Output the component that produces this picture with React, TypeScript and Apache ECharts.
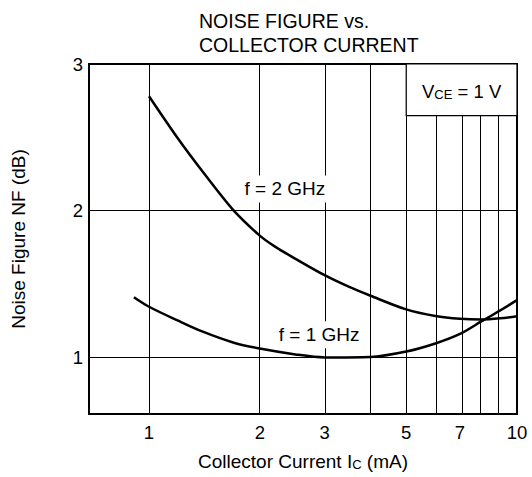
import React, { useEffect, useRef } from "react";
import * as echarts from "echarts";

// ---- data ----
const CURRENT_2GHZ = [1, 1.2, 1.4, 1.7, 2, 2.2, 2.5, 3, 3.5, 4, 5, 6, 7, 8, 9, 10];
const NF_2GHZ = [2.78, 2.49, 2.265, 2.0, 1.83, 1.755, 1.672, 1.56, 1.48, 1.42, 1.327, 1.282, 1.263, 1.258, 1.266, 1.28];

const CURRENT_1GHZ = [0.91, 1, 1.2, 1.4, 1.7, 2, 2.5, 3, 4, 5, 6, 7, 8, 9, 10];
const NF_1GHZ = [1.41, 1.345, 1.25, 1.175, 1.1, 1.06, 1.02, 1.0, 1.003, 1.04, 1.095, 1.16, 1.245, 1.32, 1.39];

const X_TICK_LABELS = [1, 2, 3, 5, 7, 10];
const X_GRID_VALUES = [1, 2, 3, 4, 5, 6, 7, 8, 9];
const Y_TICK_LABELS = [1, 2, 3];
const Y_GRID_VALUES = [1, 2];

const X_MIN = 0.687; // mA
const X_MAX = 10;
const Y_MIN = 0.614;
const Y_MAX = 3;

const CURVE_NAMES = ["f = 2 GHz", "f = 1 GHz"];
const LABEL_CURRENT = [2.34, 2.9];
const LABEL_NF = [2.148, 1.155];

const BOX_CURRENT = [5, 10];
const BOX_NF = [2.648, 3];

const FONT = '"Liberation Sans", Arial, Helvetica, sans-serif';

export default function App() {
  const ref = useRef<HTMLDivElement>(null);

  useEffect(() => {
    if (!ref.current) return;
    const chart = echarts.init(ref.current, undefined, { renderer: "svg" });
    const lg = (v: number) => Math.log10(v);

    const labelStyle = {
      show: true,
      position: "inside",
      formatter: "{b}",
      color: "#000",
      fontSize: 19,
      fontFamily: FONT,
      backgroundColor: "#fff",
      padding: [4, 3],
    };

    const option: any = {
      animation: false,
      backgroundColor: "#fff",
      textStyle: { fontFamily: FONT, color: "#000" },
      title: {
        text: "NOISE FIGURE vs.\nCOLLECTOR CURRENT",
        left: 194,
        top: 4,
        textStyle: {
          fontSize: 19.5,
          fontWeight: "normal",
          color: "#000",
          lineHeight: 24,
          fontFamily: FONT,
        },
      },
      grid: {
        left: 89,
        right: 15,
        top: 64,
        bottom: 63,
        show: true,
        borderColor: "#000",
        borderWidth: 2,
        backgroundColor: "transparent",
      },
      xAxis: {
        type: "value",
        min: lg(X_MIN),
        max: lg(X_MAX),
        axisLine: { show: false },
        axisTick: { show: false },
        splitLine: { show: false },
        axisLabel: {
          customValues: X_TICK_LABELS.map(lg),
          formatter: (v: number) => String(Math.round(Math.pow(10, v))),
          margin: 9,
          fontSize: 18.5,
          color: "#000",
          fontFamily: FONT,
        },
        name: "{a|Collector Current I}{s|C}{a| (mA)}",
        nameLocation: "middle",
        nameGap: 35,
        nameTextStyle: {
          rich: {
            a: { fontSize: 19, color: "#000", fontFamily: FONT, verticalAlign: "bottom", lineHeight: 22 },
            s: { fontSize: 13, color: "#000", fontFamily: FONT, verticalAlign: "bottom", lineHeight: 15 },
          },
        },
      },
      yAxis: {
        type: "value",
        min: Y_MIN,
        max: Y_MAX,
        axisLine: { show: false },
        axisTick: { show: false },
        splitLine: { show: false },
        axisLabel: {
          customValues: Y_TICK_LABELS,
          formatter: (v: number) => String(v),
          margin: 6,
          fontSize: 18.5,
          color: "#000",
          fontFamily: FONT,
        },
        name: "Noise Figure NF (dB)",
        nameLocation: "middle",
        nameGap: 61,
        nameTextStyle: { fontSize: 19, color: "#000", fontFamily: FONT },
      },
      series: [
        {
          type: "line",
          name: CURVE_NAMES[0],
          z: 5,
          smooth: 0.3,
          showSymbol: false,
          symbol: "none",
          silent: true,
          lineStyle: { color: "#000", width: 2.5 },
          data: CURRENT_2GHZ.map((c, i) => [lg(c), NF_2GHZ[i]]),
          markArea: {
            silent: true,
            z: 3,
            itemStyle: { color: "#fff", borderColor: "#000", borderWidth: 1.2 },
            label: {
              show: true,
              position: "inside",
              formatter: "{v|V}{s|CE}{v| = 1 V}",
              rich: {
                v: { fontSize: 18.5, color: "#000", fontFamily: FONT, verticalAlign: "bottom", lineHeight: 22 },
                s: { fontSize: 13, color: "#000", fontFamily: FONT, verticalAlign: "bottom", lineHeight: 15 },
              },
            },
            data: [
              [
                { xAxis: lg(BOX_CURRENT[0]), yAxis: BOX_NF[0] },
                { xAxis: lg(BOX_CURRENT[1]), yAxis: BOX_NF[1] },
              ],
            ],
          },
          markPoint: {
            silent: true,
            z: 10,
            symbol: "rect",
            symbolSize: 1,
            itemStyle: { color: "rgba(0,0,0,0)" },
            label: labelStyle,
            data: [{ name: CURVE_NAMES[0], coord: [lg(LABEL_CURRENT[0]), LABEL_NF[0]] }],
          },
        },
        {
          type: "line",
          name: CURVE_NAMES[1],
          z: 5,
          smooth: 0.3,
          showSymbol: false,
          symbol: "none",
          silent: true,
          lineStyle: { color: "#000", width: 2.5 },
          data: CURRENT_1GHZ.map((c, i) => [lg(c), NF_1GHZ[i]]),
          markLine: {
            silent: true,
            z: 1,
            symbol: ["none", "none"],
            label: { show: false },
            lineStyle: { color: "#000", width: 1, type: "solid" },
            emphasis: { disabled: true },
            data: [
              ...X_GRID_VALUES.map((v) => ({ xAxis: lg(v) })),
              ...Y_GRID_VALUES.map((v) => ({ yAxis: v })),
            ],
          },
          markPoint: {
            silent: true,
            z: 10,
            symbol: "rect",
            symbolSize: 1,
            itemStyle: { color: "rgba(0,0,0,0)" },
            label: labelStyle,
            data: [{ name: CURVE_NAMES[1], coord: [lg(LABEL_CURRENT[1]), LABEL_NF[1]] }],
          },
        },
      ],
    };

    chart.setOption(option);
    return () => chart.dispose();
  }, []);

  return (
    <div
      ref={ref}
      style={{ position: "fixed", left: 0, top: 0, width: 532, height: 477, background: "#fff" }}
    />
  );
}
